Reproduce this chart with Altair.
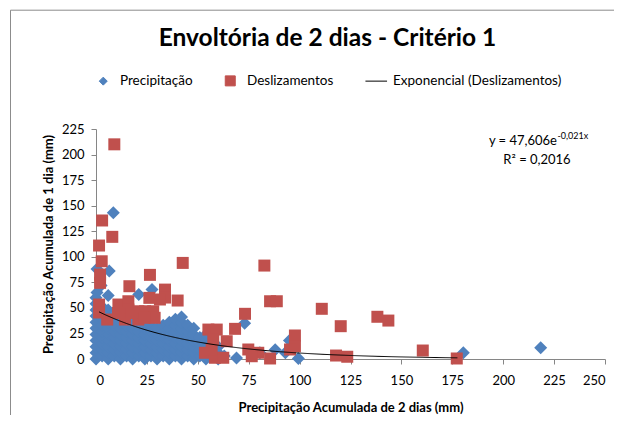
import altair as alt
import pandas as pd

# ---------------- text ----------------
title_text = "Envoltória de 2 dias - Critério 1"
x_title = "Precipitação Acumulada de 2 dias (mm)"
y_title = "Precipitação Acumulada de 1 dia (mm)"
series_names = ["Precipitação", "Deslizamentos", "Exponencial (Deslizamentos)"]
series_colors = ["#4F81BD", "#C0504D", "#000000"]
equation_main = "y = 47,606e"
equation_exp = "-0,021x"
equation_r2 = "R² = 0,2016"

x_ticks = [0, 25, 50, 75, 100, 125, 150, 175, 200, 225, 250]
y_ticks = [0, 25, 50, 75, 100, 125, 150, 175, 200, 225]

# ---------------- data: Precipitação ----------------
precip_x = [
    0, 0, 0, 0, 0, 0, 0, 0, 0, 0, 0,
    3, 3, 3, 3, 3, 3, 3, 3, 3,
    6, 6, 6, 6, 6, 6, 6, 6, 6,
    9, 9, 9, 9, 9, 9, 9,
    12, 12, 12, 12, 12, 12, 12,
    15, 15, 15, 15, 15, 15,
    18, 18, 18, 18, 18, 18, 18,
    21, 21, 21, 21, 21, 21,
    24, 24, 24, 24, 24, 24, 24,
    27, 27, 27, 27, 27, 27,
    30, 30, 30, 30, 30, 30,
    33, 33, 33, 33, 33, 33,
    36, 36, 36, 36, 36, 36, 36,
    39, 39, 39, 39, 39, 39, 39,
    42, 42, 42, 42, 42, 42, 42, 42,
    45, 45, 45, 45, 45, 45,
    48, 48, 48, 48, 48, 48,
    51, 51, 51, 51,
    54, 54, 54, 54, 54,
    57, 57, 57,
    60, 60, 60,
    63,
    0.5, 0.5, 2.5, 6.5, 6, 8.5, 27.5, 21,
    69, 73, 80.5, 88, 93, 95, 99.4, 180.4, 218.4,
]
precip_y = [
    0, 6, 12, 18, 24, 30, 36, 42, 48, 54, 60,
    3, 9, 15, 21, 27, 33, 39, 45, 51,
    0, 6, 12, 18, 24, 30, 36, 42, 48,
    3, 9, 15, 21, 27, 33, 39,
    0, 6, 12, 18, 24, 30, 36,
    3, 9, 15, 21, 27, 33,
    0, 6, 12, 18, 24, 30, 36,
    3, 9, 15, 21, 27, 33,
    0, 6, 12, 18, 24, 30, 36,
    3, 9, 15, 21, 27, 33,
    0, 6, 12, 18, 24, 30,
    3, 9, 15, 21, 27, 33,
    0, 6, 12, 18, 24, 30, 36,
    3, 9, 15, 21, 27, 33, 39,
    0, 6, 12, 18, 24, 30, 36, 41,
    3, 9, 15, 21, 27, 33,
    0, 6, 12, 18, 24, 30,
    3, 9, 15, 21,
    0, 6, 12, 18, 24,
    3, 9, 15,
    0, 6, 12,
    3,
    65, 88, 72, 86, 62, 143, 68, 63,
    1, 35, 6, 9, 6, 18, 0.5, 6, 11,
]

# ---------------- data: Deslizamentos ----------------
desl_x = [9, 3, 8, 1.5, 2.8, 2, 2, 1.5, 1.5, 5.5,
          16.4, 26.5, 42.6, 26.2, 33.9, 33.9, 31.4, 40.1, 11, 15.9,
          15.9, 14.2, 20.8, 20.8, 28.1, 24.1, 10.8, 17.5, 28.8, 23.9,
          55.2, 59.3, 68.3, 57.6, 64.2, 73.2, 82.7, 85.5, 88.8, 53.5,
          58.4, 62.5, 56.8, 74.8, 79.7, 85.5, 76.5, 110.9, 120.2, 138.2,
          143.6, 97.7, 97.7, 95.3, 117.9, 123.4, 160.5, 177.2]
desl_y = [210, 135.5, 119.5, 111, 95.6, 82.6, 74.5, 53.3, 45.5, 38.6,
          71.2, 82.3, 94, 59.8, 67.9, 60.1, 58.2, 57.2, 53.3, 56.5,
          48.4, 38.6, 46.7, 38.6, 46.7, 46.7, 45, 45, 40.3, 40.3,
          28.8, 28.8, 29.5, 19.1, 17.4, 44.2, 91.4, 56.5, 56.5, 6.1,
          1.2, 1.2, 9.3, 9.3, 6.1, 0.5, 2.7, 49.1, 32.1, 41.3,
          37.6, 23, 12.5, 9.3, 3.4, 2.2, 8.3, 0.5]

# trend line as printed on the chart: y = 47,606 e^(-0,021x), over the Deslizamentos x range
trend_a = 47.606
trend_b = -0.021
trend_x_start = 1.5
trend_x_end = 177.2

assert len(precip_x) == len(precip_y)
assert len(desl_x) == len(desl_y)

FONT = "Lato"
GRAY = "#868686"

df_p = pd.DataFrame({"x": precip_x, "y": precip_y, "serie": series_names[0]})
df_d = pd.DataFrame({"x": desl_x, "y": desl_y, "serie": series_names[1]})

diamond_path = "M0,-1L1,0L0,1L-1,0Z"
square_path = "M-1.25,-1.25H1.25V1.25H-1.25Z"
line_path = "M-2.7,0H2.7"

legend = alt.Legend(
    orient="none", legendX=0.5, legendY=-55, direction="horizontal", title=None,
    symbolSize=64, labelFont=FONT, labelFontSize=13.5, labelColor="black", labelLimit=300,
    labelOffset=10, columnPadding=29, symbolStrokeWidth=1,
    symbolStrokeColor={"expr": "scale('color', datum.value)"},
)
color_enc = alt.Color("serie:N", scale=alt.Scale(domain=series_names, range=series_colors), legend=legend)
shape_enc = alt.Shape("serie:N", scale=alt.Scale(domain=series_names, range=[diamond_path, square_path, line_path]), legend=legend)

x_axis = alt.Axis(values=x_ticks, grid=False, domainColor=GRAY, tickColor=GRAY, tickSize=5,
                  labelFont=FONT, labelFontSize=13, labelColor="black", labelPadding=10,
                  labelOverlap=False,
                  title=x_title, titleFont=FONT, titleFontSize=13, titleFontWeight="bold",
                  titleColor="black", titlePadding=14)
y_axis = alt.Axis(values=y_ticks, grid=False, domainColor=GRAY, tickColor=GRAY, tickSize=5,
                  labelFont=FONT, labelFontSize=13, labelColor="black", labelPadding=7,
                  labelOverlap=False,
                  title=y_title, titleFont=FONT, titleFontSize=13, titleFontWeight="bold",
                  titleColor="black", titlePadding=6)
x_scale = alt.Scale(domain=[0, 250], nice=False)
y_scale = alt.Scale(domain=[0, 225], nice=False)


def x_enc():
    return alt.X("x:Q", scale=x_scale, axis=x_axis)


def y_enc():
    return alt.Y("y:Q", scale=y_scale, axis=y_axis)


border = alt.Chart(pd.DataFrame({"k": [0]})).mark_rect(fill="transparent", stroke="#8c8c8c", strokeWidth=1).encode(
    x=alt.value(-85.5), x2=alt.value(700), y=alt.value(-118.8), y2=alt.value(500))

blue = alt.Chart(df_p).mark_point(filled=True, size=169, opacity=1).encode(
    x=x_enc(), y=y_enc(), color=color_enc, shape=shape_enc)
red = alt.Chart(df_d).mark_point(filled=True, size=92, opacity=1).encode(
    x=x_enc(), y=y_enc(), color=color_enc, shape=shape_enc)

trend = alt.Chart(alt.sequence(trend_x_start, trend_x_end + 0.5, 0.5, as_="x")).transform_calculate(
    y=f"{trend_a}*exp({trend_b}*datum.x)", serie=f"'{series_names[2]}'"
).mark_line(strokeWidth=1).encode(x=x_enc(), y=y_enc(), color=color_enc)

eq1 = alt.Chart(pd.DataFrame({"t": [equation_main]})).mark_text(
    font=FONT, fontSize=13, align="right", baseline="middle", color="black").encode(
    text="t:N", x=alt.value(461), y=alt.value(12.4))
eq2 = alt.Chart(pd.DataFrame({"t": [equation_exp]})).mark_text(
    font=FONT, fontSize=9, align="left", baseline="middle", color="black").encode(
    text="t:N", x=alt.value(461.5), y=alt.value(7.4))
eq3 = alt.Chart(pd.DataFrame({"t": [equation_r2]})).mark_text(
    font=FONT, fontSize=13, align="center", baseline="middle", color="black").encode(
    text="t:N", x=alt.value(441), y=alt.value(30.7))

chart = alt.layer(border, blue, red, trend, eq1, eq2, eq3).properties(
    width=509, height=230,
    autosize=alt.AutoSizeParams(type="none"),
    padding={"left": 88, "top": 121, "right": 9, "bottom": 56},
    title=alt.TitleParams(title_text, font=FONT, fontSize=24.5, fontWeight="bold", color="black",
                          anchor="middle", frame="group", dx=-23, offset=-61, baseline="alphabetic"),
).configure_view(stroke=None)

chart.save("out.html", embed_options={"renderer": "svg", "actions": False})
